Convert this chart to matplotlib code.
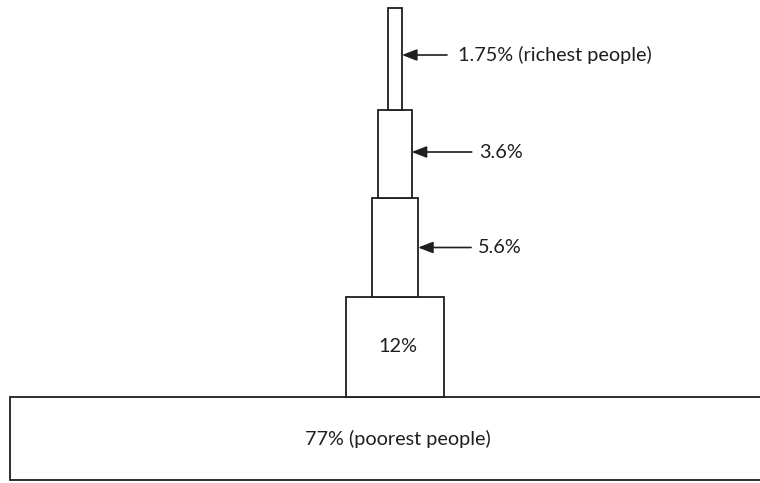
import matplotlib
matplotlib.use("Agg")
import matplotlib.pyplot as plt

# ---- data ----
shares = [77, 12, 5.6, 3.6, 1.75]          # percent of wealth group, bottom to top
labels = ["77% (poorest people)", "12%", "5.6%", "3.6%", "1.75% (richest people)"]
inside_label = [True, True, False, False, False]

# ---- layout (pixel-like canvas units, y up) ----
W, H = 760, 483
heights = [83, 100, 99, 88, 102]
base_y = 3
center_x = 395
area_k = 99 * 99 / 12.0     # area proportional to share

plt.rcParams['font.family'] = ['Lato', 'DejaVu Sans']
fig = plt.figure(figsize=(7.6, 4.83), dpi=100)
ax = fig.add_axes([0, 0, 1, 1])
ax.set_xlim(0, W)
ax.set_ylim(0, H)
ax.axis('off')

ink = '#1e1e1e'
fs = 14.3
bottoms = []
y = base_y
for h in heights:
    bottoms.append(y)
    y += h
widths = [s * area_k / h for s, h in zip(shares, heights)]
lefts = [center_x - w / 2 for w in widths]
lefts[0] = 10  # bottom slab starts near left edge

ax.bar(lefts, heights, width=widths, bottom=bottoms, align='edge',
       facecolor='white', edgecolor=ink, linewidth=1.3)

arrow_offsets = [None, None, 53, 60, 45]
text_gap = [None, None, 7, 7, 11]
arrow_dy = [0, 0, 0, 2, 4]
for i, (lab, inside) in enumerate(zip(labels, inside_label)):
    if inside:
        ty = bottoms[i] + heights[i] / 2
        ax.text(center_x + 3, ty, lab, ha='center', va='center',
                fontsize=fs, color=ink)
    else:
        right = lefts[i] + widths[i]
        ay = bottoms[i] + heights[i] / 2 + arrow_dy[i]
        tail = right + arrow_offsets[i]
        ax.annotate('', xy=(right, ay), xytext=(tail, ay),
                    arrowprops=dict(arrowstyle='-|>,head_length=0.9,head_width=0.35',
                                    color=ink, lw=1.2, shrinkA=0, shrinkB=0))
        ax.text(tail + text_gap[i], ay, lab, ha='left', va='center',
                fontsize=fs, color=ink)

fig.savefig('out.png', dpi=100, facecolor='white')
